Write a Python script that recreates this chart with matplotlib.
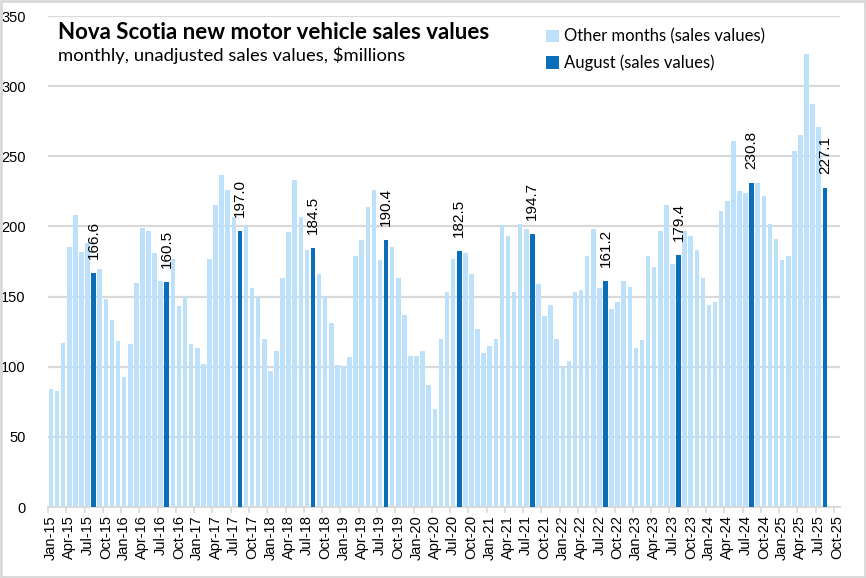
import matplotlib.pyplot as plt
import numpy as np
from matplotlib.patches import Rectangle

# monthly sales values, $millions, Jan-15 .. Aug-25
values = [
    84, 83, 117, 185, 208, 182, 188, 166.6, 170, 148, 133, 118,      # 2015
    93, 116, 160, 199, 197, 181, 161, 160.5, 177, 143, 150, 116,     # 2016
    113, 102, 177, 215, 237, 226, 207, 197.0, 200, 156, 150, 120,    # 2017
    97, 111, 163, 196, 233, 207, 183, 184.5, 166, 150, 131, 101,     # 2018
    100, 107, 179, 190, 214, 226, 176, 190.4, 185, 163, 137, 108,    # 2019
    108, 111, 87, 70, 120, 153, 177, 182.5, 181, 166, 127, 110,      # 2020
    115, 120, 201, 193, 153, 202, 198, 194.7, 159, 136, 144, 120,    # 2021
    100, 104, 153, 155, 179, 198, 156, 161.2, 141, 146, 161, 157,    # 2022
    113, 119, 179, 171, 197, 215, 173, 179.4, 197, 193, 183, 163,    # 2023
    144, 146, 211, 218, 261, 225, 224, 230.8, 231, 222, 202, 191,    # 2024
    176, 179, 254, 265, 323, 287, 271, 227.1,                        # 2025
]
month_names = ['Jan', 'Feb', 'Mar', 'Apr', 'May', 'Jun',
               'Jul', 'Aug', 'Sep', 'Oct', 'Nov', 'Dec']
# axis runs Jan-15 .. Oct-25
axis_labels = [f'{m}-{y % 100:02d}' for y in range(2015, 2026) for m in month_names][:130]

light = '#BDE1FA'
dark = '#0B6EB9'
grid_c = '#D9D9D9'

fig = plt.figure(figsize=(8.66, 5.78), dpi=100)
ax = fig.add_axes([0.0554, 0.1228, 0.9146, 0.8495])

x = np.arange(len(values))
is_aug = np.array([axis_labels[i].startswith('Aug') for i in x])
vals = np.array(values)

ax.bar(x[~is_aug], vals[~is_aug], width=0.75, color=light, zorder=2,
       label='Other months (sales values)')
ax.bar(x[is_aug], vals[is_aug], width=0.75, color=dark, zorder=3,
       label='August (sales values)')

# value labels above the August bars
for xi, v in zip(x[is_aug], vals[is_aug]):
    ax.text(xi, v + 10, f'{v:.1f}', rotation=90, ha='center', va='bottom',
            fontsize=11, family='Liberation Sans', color='black')

ax.set_xlim(-0.5, 129.5)
ax.set_ylim(0, 350)
ax.set_yticks(range(0, 351, 50))
ax.yaxis.grid(True, color=grid_c, linewidth=1.6, zorder=0)
ax.set_axisbelow(True)

ax.set_xticks(range(0, 130, 3))
ax.set_xticklabels(axis_labels[::3], rotation=90, fontsize=10.5, family='Liberation Sans')
ax.set_xticks(np.arange(-0.5, 130, 3), minor=True)
ax.tick_params(axis='x', which='major', length=0, pad=6)
ax.tick_params(axis='x', which='minor', length=4, color=grid_c, width=1.2)
ax.tick_params(axis='y', length=0, pad=16, labelsize=10.5)
for lab in ax.get_yticklabels():
    lab.set_family('Liberation Sans')

for s in ['top', 'right', 'left']:
    ax.spines[s].set_visible(False)
ax.spines['bottom'].set_color(grid_c)
ax.spines['bottom'].set_linewidth(1.4)

fig.text(0.067, 0.943, 'Nova Scotia new motor vehicle sales values',
         fontsize=16, fontweight='bold', family='Lato', va='center')
fig.text(0.067, 0.904, 'monthly, unadjusted sales values, $millions',
         fontsize=13.3, family='Lato', va='center')

leg = ax.legend(loc='upper left', bbox_to_anchor=(0.61, 1.005), frameon=False,
                handlelength=0.75, handleheight=0.75,
                handletextpad=0.35, labelspacing=0.6,
                prop={'family': 'Lato', 'size': 12})

fig.patches.append(Rectangle((0.001, 0.001), 0.998, 0.997, transform=fig.transFigure,
                             fill=False, edgecolor=grid_c, linewidth=2))

fig.savefig('out.png', dpi=100)
